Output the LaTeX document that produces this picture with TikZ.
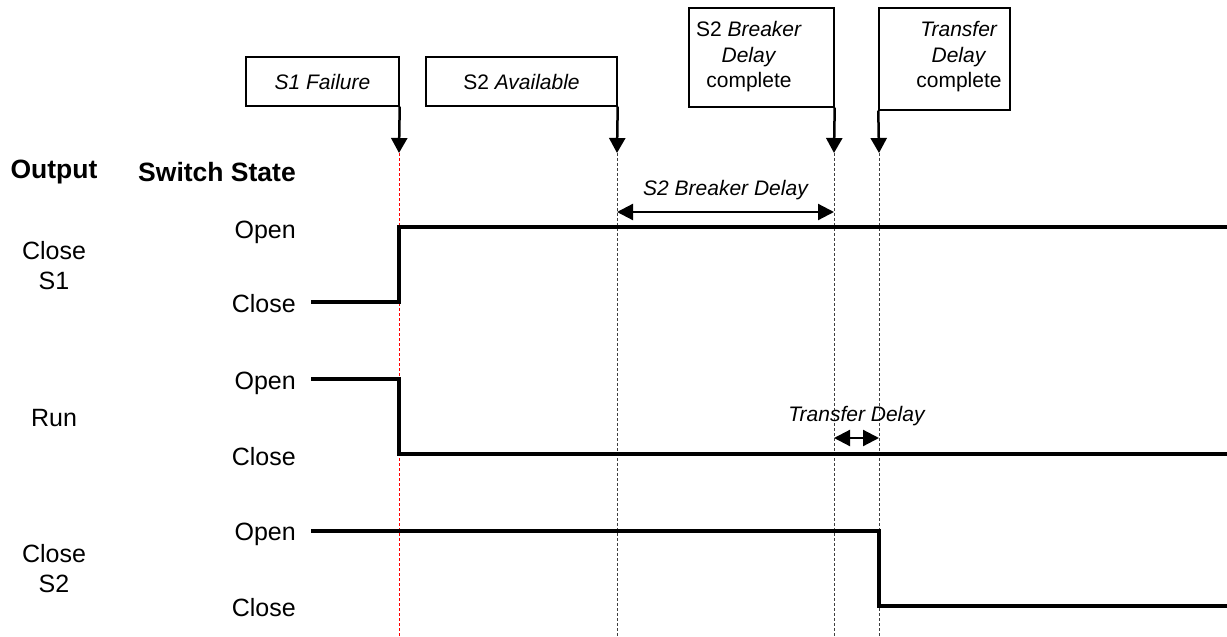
\documentclass[tikz,border=0pt]{standalone}
\usepackage{fontspec}
\setmainfont{Liberation Sans}
\usetikzlibrary{arrows.meta, positioning}

\begin{document}
\begin{tikzpicture}[
            x=1pt, y=-1pt,
            every node/.style={inner sep=0pt, font=\fontsize{25}{30}\selectfont},
            header/.style={font=\fontsize{26.5}{32}\selectfont\bfseries},
            level/.style={anchor=base east},
            output/.style={align=center},
            callout/.style={draw, line width=1.4pt, align=center, font=\fontsize{21}{25.5}\selectfont},
            calltext/.style={align=center, font=\fontsize{21}{25.5}\selectfont},
            pointer/.style={-{Triangle[width=16pt, length=15pt]}, line width=2.5pt},
            marker/.style={dash pattern=on 3pt off 2pt, line width=1pt, color=black!75},
            signal/.style={line width=4pt, line join=miter},
            span/.style={{Triangle[width=16pt, length=16pt]}-{Triangle[width=16pt, length=16pt]}, line width=2.2pt},
            note/.style={font=\fontsize{21}{25}\selectfont\itshape}
        ]

        \useasboundingbox (0,0) rectangle (1227,637);

        % event times
        \coordinate (T1) at (399,153);
        \coordinate (T2) at (617,153);
        \coordinate (T3) at (834,153);
        \coordinate (T4) at (879,153);
        \coordinate (E1) at (399,637);
        \coordinate (E2) at (617,637);
        \coordinate (E3) at (834,637);
        \coordinate (E4) at (879,637);

        \node[callout, minimum width=153pt, minimum height=49pt] (C1) at (322.5,81.5) {\itshape S1 Failure};
        \node[callout, minimum width=191pt, minimum height=49pt] (C2) at (521.5,81.5) {S2 \textit{Available}};
        \node[callout, minimum width=145pt, minimum height=99pt] (C3) at (761.5,57.5) {};
        \node[callout, minimum width=131pt, minimum height=102pt] (C4) at (944.5,59) {};
        \node[calltext] (C3T) at (749,57) {S2 \textit{Breaker}\\\textit{Delay}\\complete};
        \node[calltext] (C4T) at (959,57) {\textit{Transfer}\\\textit{Delay}\\complete};

        \draw[marker, color=red] (T1) -- (E1);
        \draw[marker] (T2) -- (E2);
        \draw[marker] (T3) -- (E3);
        \draw[marker] (T4) -- (E4);

        \draw[pointer] (C1.south east) -- (T1);
        \draw[pointer] (C2.south east) -- (T2);
        \draw[pointer] (C3.south east) -- (T3);
        \draw[pointer] (C4.south west) -- (T4);

        \node[header] (OUT) at (54,172) {Output};
        \node[header, anchor=east] (SW) at (296,172) {Switch State};

        \node[output] (S1) at (54,266) {Close\\S1};
        \node[output] (RUN) at (54,418) {Run};
        \node[output] (S2) at (54,569) {Close\\S2};

        \node[level] (O1) at (296,238) {Open};
        \node[level] (L1) at (296,312) {Close};
        \node[level] (O2) at (296,389) {Open};
        \node[level] (L2) at (296,465) {Close};
        \node[level] (O3) at (296,540) {Open};
        \node[level] (L3) at (296,616) {Close};

        \draw[signal] (311,302) -- (399,302) -- (399,227) -- (1227,227);
        \draw[signal] (311,379) -- (399,379) -- (399,454) -- (1227,454);
        \draw[signal] (311,531) -- (879,531) -- (879,606) -- (1227,606);

        \coordinate (B1) at (617,212);
        \coordinate (B2) at (834,212);
        \coordinate (D1) at (834,438);
        \coordinate (D2) at (879,438);

        \draw[span] (B1) -- node[note, above=11pt] {S2 Breaker Delay} (B2);
        \draw[span] (D1) -- node[note, above=11pt] {Transfer Delay} (D2);

        \end{tikzpicture}
\end{document}
